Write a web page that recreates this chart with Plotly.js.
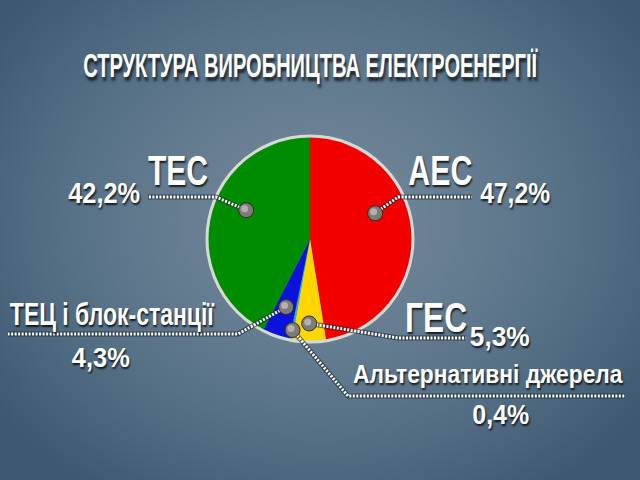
<!DOCTYPE html>
<html>
<head>
<meta charset="utf-8">
<script src="https://cdn.plot.ly/plotly-3.0.1.min.js"></script>
<style>
  html, body { margin: 0; padding: 0; width: 640px; height: 480px; overflow: hidden; }
  body {
    background:
      radial-gradient(ellipse 62% 68% at 50% 46%, #768a9c 0%, #647c90 40%, #4f6a80 75%, #3e596f 100%);
  }
  #chart { width: 640px; height: 480px; }
</style>
</head>
<body>
<div id="chart"></div>
<script>
// Electricity generation mix, clockwise from 12 o'clock
const sources = ['АЕС', 'ГЕС', 'Альтернативні джерела', 'ТЕЦ і блок-станції', 'ТЕС'];
const shares = [47.2, 5.3, 0.4, 4.3, 42.2];
const shareLabels = ['47,2%', '5,3%', '0,4%', '4,3%', '42,2%'];
const sliceColors = ['#f20000', '#ffd600', '#1eb0ea', '#0a12dc', '#008c00'];
const titleText = 'СТРУКТУРА ВИРОБНИЦТВА ЕЛЕКТРОЕНЕРГІЇ';

// ---- layout (pixels) ----
const W = 640, H = 480;
const px = x => x / W;
const py = y => 1 - y / H;
const CX = 310, CY = 239, R = 103;

// where the grey marker sits inside each slice: [fraction of slice angle, fraction of radius]
const markerAt = [[0.40, 0.68], [0.5, 0.82], [0.5, 0.90], [0.5, 0.70], [0.57, 0.68]];
// leader polyline after the marker: elbow and end point
const leaderElbow = [[398, 197], [398, 338], [348, 396], [238, 334], [216, 197]];
const leaderEnd   = [[472, 197], [466, 338], [625, 396], [8, 334], [148, 197]];
// label placement: [centre x, centre y, font size, condensed width]
const nameBox  = [[440, 170, 42, 64], [436, 317, 42, 62], [488, 374, 26, 270], [112, 314, 31, 205], [178, 170, 42, 60]];
const valueBox = [[515, 193, 29, 70], [500, 337, 27, 60], [501, 415, 27, 57], [101, 358, 27, 58], [104, 193, 29, 72]];
const titleBox = [310, 65, 34, 455];

const FONT = 'Liberation Sans, Arial, sans-serif';
const SHADOW = '1px 2px 2px rgba(0,0,0,0.8)';

const total = shares.reduce((a, b) => a + b, 0);
let cum = 0;
const annotations = [];
const condensedWidth = [];
const shapes = [{
  // pie outline ring
  type: 'circle', xref: 'paper', yref: 'paper', layer: 'above',
  x0: px(CX - R), x1: px(CX + R), y0: py(CY + R), y1: py(CY - R),
  line: { color: '#d6dad6', width: 3 }, fillcolor: 'rgba(0,0,0,0)'
}];

function addLabel(text, box, shadow) {
  annotations.push({
    text, xref: 'paper', yref: 'paper', showarrow: false,
    x: px(box[0]), y: py(box[1]), xanchor: 'center', yanchor: 'middle',
    font: { family: FONT, size: box[2], color: '#ffffff', weight: 700, shadow: shadow || SHADOW }
  });
  condensedWidth.push(box[3]);
}

const leaders = [], markers = [];
shares.forEach((v, i) => {
  const a = (cum + markerAt[i][0] * v) / total * 2 * Math.PI;
  cum += v;
  const mx = CX + R * markerAt[i][1] * Math.sin(a);
  const my = CY - R * markerAt[i][1] * Math.cos(a);
  const pts = [[mx, my], leaderElbow[i], leaderEnd[i]];
  const path = pts.map((p, k) => (k ? 'L' : 'M') + px(p[0]).toFixed(5) + ',' + py(p[1]).toFixed(5)).join(' ');
  leaders.push({ type: 'path', xref: 'paper', yref: 'paper', layer: 'above', path,
    line: { color: 'rgba(25,35,45,0.6)', width: 5 } });
  leaders.push({ type: 'path', xref: 'paper', yref: 'paper', layer: 'above', path,
    line: { color: '#ffffff', width: 3, dash: '2px,1.5px' } });
  const r1 = 7.5, r2 = 3.5;
  markers.push({ type: 'circle', xref: 'paper', yref: 'paper', layer: 'above',
    x0: px(mx - r1), x1: px(mx + r1), y0: py(my + r1), y1: py(my - r1),
    fillcolor: '#7f7b77', line: { color: '#2c2c2c', width: 1 } });
  markers.push({ type: 'circle', xref: 'paper', yref: 'paper', layer: 'above',
    x0: px(mx - 1.5 - r2), x1: px(mx - 1.5 + r2), y0: py(my - 1.5 + r2), y1: py(my - 1.5 - r2),
    fillcolor: 'rgba(190,186,180,0.85)', line: { width: 0 } });

  addLabel(sources[i], nameBox[i]);
  addLabel(shareLabels[i], valueBox[i]);
});
addLabel(titleText, titleBox, '2px 3px 3px rgba(0,0,0,0.7)');

const data = [{
  type: 'pie',
  labels: sources,
  values: shares,
  sort: false,
  direction: 'clockwise',
  rotation: 0,
  textinfo: 'none',
  hoverinfo: 'none',
  showlegend: false,
  marker: { colors: sliceColors, line: { width: 0 } },
  domain: { x: [px(CX - R), px(CX + R)], y: [py(CY + R), py(CY - R)] }
}];

const layout = {
  width: W, height: H,
  margin: { l: 0, r: 0, t: 0, b: 0 },
  paper_bgcolor: 'rgba(0,0,0,0)',
  plot_bgcolor: 'rgba(0,0,0,0)',
  shapes: shapes.concat(leaders, markers),
  annotations
};

// squeeze each label horizontally about its centre (condensed poster lettering)
function condenseLabels(gd) {
  gd.querySelectorAll('g.annotation').forEach(g => {
    const idx = +g.getAttribute('data-index');
    const t = g.querySelector('text.annotation-text');
    if (!t || !condensedWidth[idx]) return;
    const bb = t.getBBox();
    if (!bb.width) return;
    const k = Math.min(1, condensedWidth[idx] / bb.width);
    const c = bb.x + bb.width / 2;
    const prev = t.getAttribute('transform') || '';
    t.setAttribute('transform', prev + ` translate(${c},0) scale(${k},1) translate(${-c},0)`);
  });
}

Plotly.newPlot('chart', data, layout, { displayModeBar: false, staticPlot: true })
  .then(condenseLabels);
</script>
</body>
</html>
